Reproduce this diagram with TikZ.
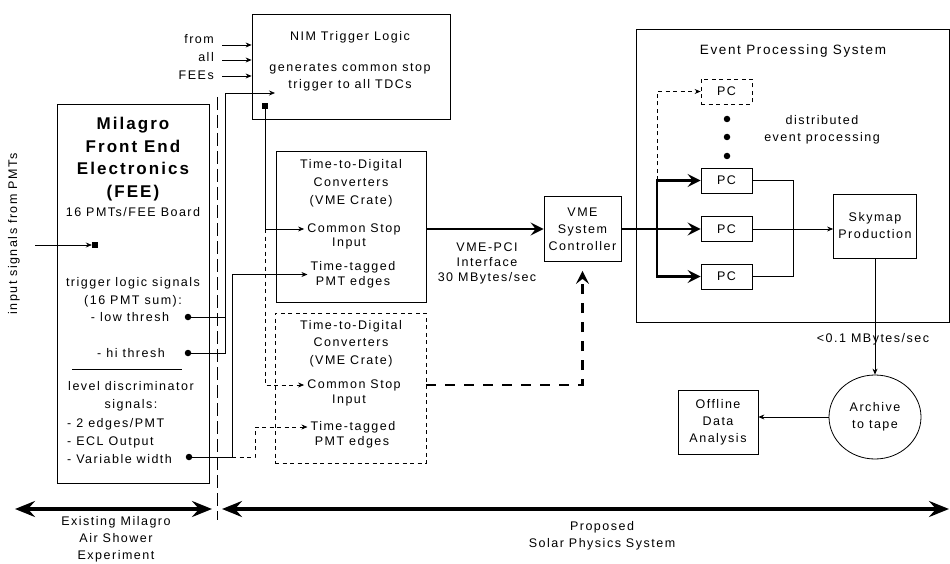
\documentclass[tikz,border=0pt]{standalone}
\usepackage{fontspec}
\setmainfont{Liberation Sans}[LetterSpace=12]
\usetikzlibrary{positioning, arrows.meta, shapes.geometric}

\begin{document}
\begin{tikzpicture}[x=1pt, y=-1pt,
    font=\fontsize{12.5}{17}\selectfont, % pixel units, y downwards
    box/.style={draw, line width=0.8pt, inner sep=0pt},
    dbox/.style={box, dash pattern=on 4pt off 3.5pt},
    txt/.style={align=center, inner sep=3pt},
    sig/.style={draw, line width=0.7pt, -{Stealth[length=6pt, width=5pt, inset=2pt]}},
    dsig/.style={sig, dash pattern=on 4pt off 3.5pt},
    fat/.style={draw, line width=2.6pt, -{Stealth[length=13pt, width=13pt, inset=5pt]}},
    fatdash/.style={fat, dash pattern=on 10pt off 9pt},
    dot/.style={circle, fill, inner sep=0pt, minimum size=6.5pt},
    pad/.style={rectangle, fill, inner sep=0pt, minimum size=6pt},
    span/.style={draw, line width=3.5pt, {Stealth[length=20pt, width=16pt, inset=7pt]}-{Stealth[length=20pt, width=16pt, inset=7pt]}}
]
\useasboundingbox (0,0) rectangle (950,564);

% Front end electronics
\node[box, minimum width=152, minimum height=379] (fee) at (133,293.5) {};
\node[txt, font=\fontsize{17}{22.6}\selectfont\bfseries] (feetitle) at (133,159) {Milagro\\Front End\\Electronics\\(FEE)};
\node[txt] (feeboard) at (133,212) {16 PMTs/FEE Board};
\node[txt, rotate=90] (inlbl) at (14,234) {input signals from PMTs};
\coordinate (instart) at (35,245);
\node[pad] (inpad) at (95,245) {};
\node[txt, font=\fontsize{12.5}{18}\selectfont] (trig) at (133,292) {trigger logic signals\\(16 PMT sum):};
\node[txt] (low) at (130,317) {- low thresh};
\node[txt] (hi) at (131,353) {- hi thresh};
\node[txt, font=\fontsize{12.5}{18}\selectfont] (lvl) at (131,396) {level discriminator\\signals:};
\node[txt, align=left, anchor=west, font=\fontsize{12.5}{18}\selectfont] (lvlitems) at (64,441) {- 2 edges/PMT\\- ECL Output\\- Variable width};
\coordinate (sepl) at (72,369);
\coordinate (sepr) at (182,369);
\node[dot] (lowdot) at (188,317) {};
\node[dot] (hidot) at (188,353) {};
\node[dot] (vardot) at (189,457) {};

% NIM trigger logic
\node[box, minimum width=198, minimum height=105] (nim) at (351,66.5) {};
\node[txt] (nimtitle) at (350,37) {NIM Trigger Logic};
\node[txt] (nimtext) at (350,77.5) {generates common stop\\trigger to all TDCs};
\node[txt, align=right, anchor=east, font=\fontsize{12.5}{18}\selectfont] (fromall) at (217,57) {from\\all\\FEEs};
\coordinate (from1) at (222,45);
\coordinate (from2) at (222,60);
\coordinate (from3) at (222,76);
\coordinate (trigbus) at (225,93);
\coordinate (nimin) at (275,93);
\node[pad] (nimpad) at (265,106) {};

% TDC crates
\node[box, minimum width=150, minimum height=151] (tdc1) at (351,226.5) {};
\node[txt, font=\fontsize{12.5}{18}\selectfont] (tdc1title) at (351,183) {Time-to-Digital\\Converters\\(VME Crate)};
\node[txt] (stop1) at (354,229) {Common Stop};
\node[txt] (in1) at (349,243) {Input};
\node[txt, font=\fontsize{12.5}{15}\selectfont] (tag1) at (353,274.5) {Time-tagged\\PMT edges};
\node[dbox, minimum width=151, minimum height=150] (tdc2) at (350.5,388) {};
\node[txt, font=\fontsize{12.5}{17.5}\selectfont] (tdc2title) at (351,343.5) {Time-to-Digital\\Converters\\(VME Crate)};
\node[txt] (stop2) at (354,385) {Common Stop};
\node[txt] (in2) at (349,400) {Input};
\node[txt] (tag2) at (353,427) {Time-tagged};
\node[txt] (edges2) at (352,442) {PMT edges};
\coordinate (tagbus) at (232,457);
\coordinate (tagbus2) at (255,457);

% VME controller
\node[box, minimum width=77, minimum height=65, txt, inner sep=0pt] (vme) at (582.5,229) {VME\\System\\Controller};
\node[txt, font=\fontsize{12.5}{15}\selectfont] (pci) at (487,263) {VME-PCI\\Interface\\30 MBytes/sec};

% Event processing
\node[box, minimum width=313, minimum height=293] (eps) at (792.5,175.5) {};
\node[txt, font=\fontsize{13.5}{17}\selectfont] (epstitle) at (793,51) {Event Processing System};
\node[dbox, minimum width=51, minimum height=25] (pc0) at (726.5,91.5) {PC};
\node[box, minimum width=51, minimum height=25] (pc1) at (726.5,180.5) {PC};
\node[box, minimum width=51, minimum height=25] (pc2) at (726.5,229) {PC};
\node[box, minimum width=51, minimum height=25] (pc3) at (726.5,276.5) {PC};
\foreach \y [count=\i] in {119,137,156}
  \node[dot] (more\i) at (727,\y) {};
\node[txt] (distr) at (822,130) {distributed\\event processing};
\coordinate (split) at (657,229);
\coordinate (merge) at (793,229);
\node[box, minimum width=83, minimum height=64, txt, inner sep=0pt] (sky) at (875,226) {Skymap\\Production};
\node[draw, ellipse, line width=0.8pt, minimum width=92, minimum height=84, txt, inner sep=0pt] (arch) at (875,417) {Archive\\to tape};
\node[box, minimum width=80, minimum height=64, txt, inner sep=0pt] (off) at (718,422) {Offline\\Data\\Analysis};

% scope arrows
\coordinate (exl) at (15,509);
\coordinate (exr) at (212,509);
\coordinate (prl) at (222,509);
\coordinate (prr) at (949,509);
\node[txt] (exlbl) at (116,539) {Existing Milagro\\Air Shower\\Experiment};
\node[txt] (prlbl) at (602,535.5) {Proposed\\Solar Physics System};
\coordinate (divtop) at (217,97);
\coordinate (divbot) at (217,520);

% Connections
\draw[line width=0.8pt] (sepl) -- (sepr);
\draw[line width=1pt, dash pattern=on 13pt off 5pt] (divtop) -- (divbot);
\draw[sig] (instart) -- (inpad);
\foreach \f in {from1,from2,from3}
  \draw[sig] (\f) -- (\f -| nim.west);
\draw[sig] (hidot) -| (trigbus) -- (nimin);
\draw[line width=0.7pt] (lowdot) -- (lowdot -| trigbus);
\draw[sig] (nimpad) |- (stop1.west);
\draw[dsig] (nimpad |- stop1) |- (stop2.west);
\draw[sig] (vardot) -- (tagbus) |- (tag1.west);
\draw[dsig] (tagbus) -- (tagbus2) |- (tag2.west);
\draw[fat] (tdc1.east |- vme.west) -- (vme.west);
\draw[fatdash, shorten >=9pt] (tdc2.east |- stop2) -| (vme.south);
\draw[fat] (vme.east) -- (pc2.west);
\draw[fat] (split) |- (pc1.west);
\draw[fat] (split) |- (pc3.west);
\draw[dsig] (split |- pc1) |- (pc0.west);
\draw[line width=0.7pt] (pc1.east) -- (pc1.east -| merge) -- (pc3.east -| merge) -- (pc3.east);
\draw[sig] (pc2.east) -- (pc2.east -| sky.west);
\draw[sig] (sky.south) -- (arch.north);
\node[txt, inner sep=0pt] (rate) at (873,339) {<0.1 MBytes/sec};
\draw[sig] (arch.west) -- (arch.west -| off.east);
\draw[span] (exl) -- (exr);
\draw[span] (prl) -- (prr);
\end{tikzpicture}
\end{document}
